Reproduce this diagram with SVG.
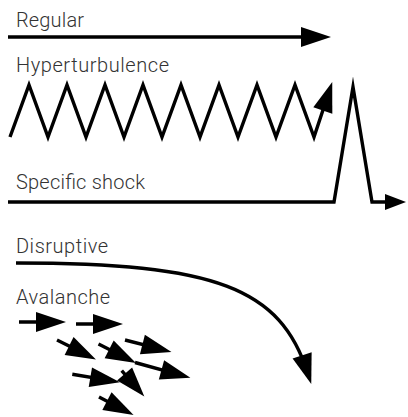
<svg xmlns="http://www.w3.org/2000/svg" width="408" height="417" viewBox="0 0 408 417">
  <style>
    .lbl { font-family: Roboto, "Liberation Sans", sans-serif; font-weight: 300; font-size: 20px; fill: #333; }
    .ln { fill: none; stroke: #000; stroke-width: 3.4; }
  </style>
  <defs>
    <marker id="ah" markerUnits="userSpaceOnUse" markerWidth="31" markerHeight="21" refX="19" refY="10" orient="auto" overflow="visible">
      <path d="M0,0 L30,10 L0,20 Z" fill="#000"/>
    </marker>
    <marker id="ah2" markerUnits="userSpaceOnUse" markerWidth="22" markerHeight="17" refX="11" refY="8" orient="auto" overflow="visible">
      <path d="M0,0 L21,8 L0,16 Z" fill="#000"/>
    </marker>
  </defs>
  <rect width="408" height="417" fill="#fff"/>

  <g id="regular">
    <text class="lbl" x="16" y="27" textLength="68" lengthAdjust="spacing">Regular</text>
  </g>
  <g id="hyperturbulence">
    <text class="lbl" x="16" y="72" textLength="153" lengthAdjust="spacing">Hyperturbulence</text>
  </g>
  <g id="specific-shock">
    <text class="lbl" x="16" y="189" textLength="129" lengthAdjust="spacing">Specific shock</text>
  </g>
  <g id="disruptive">
    <text class="lbl" x="16" y="252.5" textLength="92" lengthAdjust="spacing">Disruptive</text>
  </g>
  <g id="avalanche">
    <text class="lbl" x="16" y="304" textLength="94" lengthAdjust="spacing">Avalanche</text>
  </g>

  <g id="connectors">
    <path class="ln" d="M8,37 H320" marker-end="url(#ah)"/>
    <path class="ln" stroke-linejoin="miter" d="M10,137 L29,85 L48,137 L67,85 L86,137 L105,85 L124,137 L143,85 L162,137 L181,85 L200,137 L219,85 L238,137 L257,85 L276,137 L295,85 L314,137 L328.8,92.5" marker-end="url(#ah)"/>
    <path class="ln" stroke-linejoin="miter" stroke-miterlimit="10" d="M8,202 H334 L353,87 L372,202 H396" marker-end="url(#ah2)"/>
    <path class="ln" d="M16,263 C216,263 280.5,287.8 307.9,373.5" marker-end="url(#ah)"/>
    <path class="ln" d="M19,322 L55,322" marker-end="url(#ah)"/>
    <path class="ln" d="M76,324 L112,324" marker-end="url(#ah)"/>
    <path class="ln" d="M57,340 L86.1,354.5" marker-end="url(#ah)"/>
    <path class="ln" d="M98.5,344 L126.1,358" marker-end="url(#ah)"/>
    <path class="ln" d="M135,362.5 L179.8,374.8" marker-end="url(#ah)"/>
    <path class="ln" d="M125,340 L160.8,349.2" marker-end="url(#ah)"/>
    <path class="ln" d="M72.3,374.2 L109.1,380.4" marker-end="url(#ah)"/>
    <path class="ln" d="M121.7,370.7 L137.1,388.3" marker-end="url(#ah)"/>
    <path class="ln" d="M99,397 L123.8,409.9" marker-end="url(#ah)"/>
  </g>
</svg>
